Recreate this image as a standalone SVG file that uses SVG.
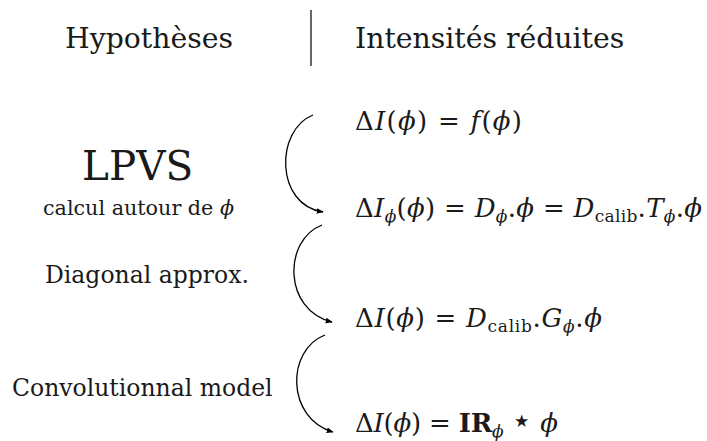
<svg xmlns="http://www.w3.org/2000/svg" width="707" height="441" viewBox="0 0 707 441">
<style>
text{font-family:"DejaVu Serif",serif;fill:#1a1a1a}
.h{font-size:28.3px}
.l{font-size:23.5px}
.m{font-size:26px}
.i{font-style:italic}
.s{font-size:17px}
.c{fill:none;stroke:#000;stroke-width:1.3}
</style>
<defs>
<marker id="a" viewBox="0 0 10 10" refX="9" refY="5" markerWidth="7" markerHeight="7" markerUnits="userSpaceOnUse" orient="auto">
<path d="M0,1 L10,5 L0,9 Z" fill="#000"/>
</marker>
</defs>
<g id="header">
<text class="h" x="65" y="48">Hypothèses</text>
<line x1="311" y1="10" x2="311" y2="66" stroke="#000" stroke-width="1.2"/>
<text class="h" x="355" y="48">Intensités réduites</text>
</g>
<g id="labels">
<text x="82" y="180" font-size="40.5">LPVS</text>
<text x="43" y="215" font-size="20.7">calcul autour de <tspan class="i">ϕ</tspan></text>
<text class="l" x="45" y="283">Diagonal approx.</text>
<text class="l" x="12" y="396">Convolutionnal model</text>
</g>
<g id="eq1"><text class="m" x="355" y="130" textLength="167">Δ<tspan class="i">I</tspan>(<tspan class="i">ϕ</tspan>) = <tspan class="i">f</tspan>(<tspan class="i">ϕ</tspan>)</text></g>
<g id="eq2"><text class="m" x="355" y="217" textLength="347">Δ<tspan class="i">I</tspan><tspan class="i s" dy="5">ϕ</tspan><tspan dy="-5">(</tspan><tspan class="i">ϕ</tspan>) = <tspan class="i">D</tspan><tspan class="i s" dy="5">ϕ</tspan><tspan dy="-5">.</tspan><tspan class="i">ϕ</tspan> = <tspan class="i">D</tspan><tspan class="s" dy="5">calib</tspan><tspan dy="-5">.</tspan><tspan class="i">T</tspan><tspan class="i s" dy="5">ϕ</tspan><tspan dy="-5">.</tspan><tspan class="i">ϕ</tspan></text></g>
<g id="eq3"><text class="m" x="355" y="327" textLength="247">Δ<tspan class="i">I</tspan>(<tspan class="i">ϕ</tspan>) = <tspan class="i">D</tspan><tspan class="s" dy="5">calib</tspan><tspan dy="-5">.</tspan><tspan class="i">G</tspan><tspan class="i s" dy="5">ϕ</tspan><tspan dy="-5">.</tspan><tspan class="i">ϕ</tspan></text></g>
<g id="eq4"><text class="m" x="355" y="432" textLength="203">Δ<tspan class="i">I</tspan>(<tspan class="i">ϕ</tspan>) = <tspan font-weight="bold">IR</tspan><tspan class="i s" dy="5">ϕ</tspan><tspan dy="-5"> </tspan><tspan font-size="34">⋆</tspan> <tspan class="i">ϕ</tspan></text></g>
<g id="connectors">
<path class="c" d="M313,115 C275,130 275,205 323,212" marker-end="url(#a)"/>
<path class="c" d="M322,225 C283,240 283,310 332,322" marker-end="url(#a)"/>
<path class="c" d="M325,335 C286,350 286,418 333,432" marker-end="url(#a)"/>
</g>
</svg>
